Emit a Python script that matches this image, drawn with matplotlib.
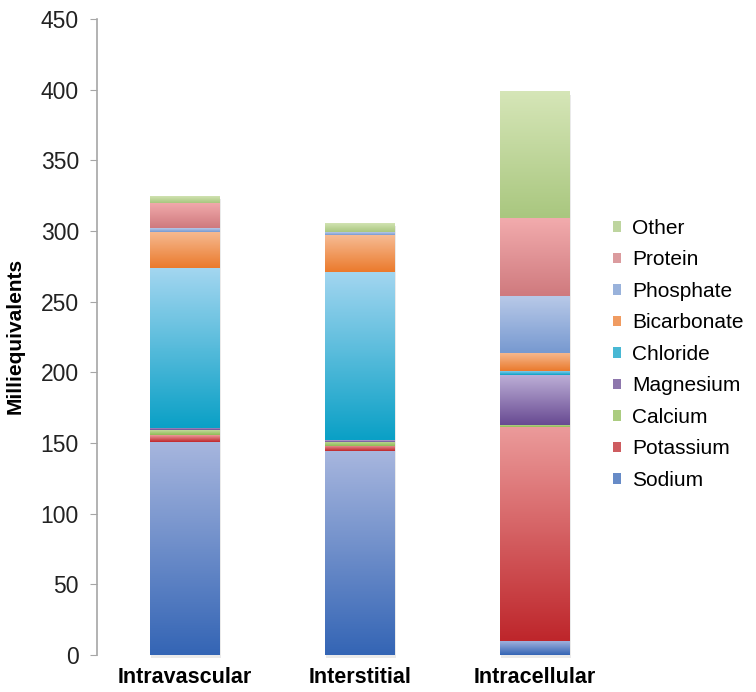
import numpy as np
import matplotlib
matplotlib.use('Agg')
import matplotlib.pyplot as plt
import matplotlib.patheffects as pe
from matplotlib.colors import LinearSegmentedColormap
from matplotlib.patches import Rectangle

plt.rcParams['font.family'] = ['Liberation Sans', 'DejaVu Sans']

categories = ['Intravascular', 'Interstitial', 'Intracellular']
ions = ['Sodium', 'Potassium', 'Calcium', 'Magnesium', 'Chloride',
        'Bicarbonate', 'Phosphate', 'Protein', 'Other']

# mEq per compartment
sodium = [151, 144, 10]
potassium = [4.5, 4, 151]
calcium = [3.5, 3, 2]
magnesium = [1.5, 1, 35]
chloride = [113, 119, 3]
bicarbonate = [26, 26, 13]
phosphate = [2.5, 2, 40]
protein = [18, 0, 55]
other = [5, 7, 90]

series = [sodium, potassium, calcium, magnesium, chloride,
          bicarbonate, phosphate, protein, other]

# (light top, dark bottom) for each ion
shades = [('#a7b6de', '#3465b5'),
          ('#eb9a9a', '#be262b'),
          ('#c3da9c', '#8fbb55'),
          ('#bcaed6', '#684a92'),
          ('#a3d6f0', '#0aa0c6'),
          ('#f6bb93', '#eb7a2c'),
          ('#b8c9e8', '#7799d0'),
          ('#f2abad', '#cf7a7e'),
          ('#d6e6b8', '#a9c77f')]


def gradient_fill(ax, patch, light, dark):
    x0, y0 = patch.get_x(), patch.get_y()
    w, h = patch.get_width(), patch.get_height()
    if h <= 0:
        return
    cmap = LinearSegmentedColormap.from_list('g', [dark, light])
    grad = np.linspace(0, 1, 128).reshape(-1, 1)
    img = ax.imshow(grad, cmap=cmap, extent=[x0, x0 + w, y0, y0 + h],
                    origin='lower', aspect='auto', interpolation='bilinear',
                    zorder=3)
    img.set_clip_path(patch)


fig = plt.figure(figsize=(7.56, 6.92), dpi=100)
ax = fig.add_axes([0.1283, 0.0535, 0.6488, 0.919])

x = np.arange(len(categories))
width = 0.4

# faint drop shadow behind each full stack
totals = np.sum(np.array(series, dtype=float), axis=0)
ax.bar(x, totals, width, color='white', linewidth=0, zorder=1, clip_on=False,
       path_effects=[pe.SimplePatchShadow(offset=(1, -2.5), shadow_rgbFace='#999999',
                                          alpha=0.2),
                     pe.Normal()])

bottom = np.zeros(len(categories))
handles = []
for name, vals, (light, dark) in zip(ions, series, shades):
    vals = np.array(vals, dtype=float)
    bars = ax.bar(x, vals, width, bottom=bottom, color=dark,
                  linewidth=0, zorder=2, label=name)
    for p in bars:
        gradient_fill(ax, p, light, dark)
    bottom += vals
    handles.append(Rectangle((0, 0), 1, 1, facecolor=dark, alpha=0.75,
                             edgecolor='none'))

ax.set_xlim(-0.503, 2.3)
ax.set_ylim(0, 450)
ax.set_yticks(np.arange(0, 451, 50))
ax.set_xticks(x)
ax.set_xticklabels(categories, fontsize=15.5, fontweight='bold')
ax.tick_params(axis='x', length=0, pad=9)
ax.tick_params(axis='y', length=5, color='#a6a6a6', labelsize=16.5,
               labelcolor='#222222', pad=8)
for s in ['top', 'right', 'bottom']:
    ax.spines[s].set_visible(False)
ax.spines['left'].set_color('#a6a6a6')
ax.spines['left'].set_linewidth(1.2)

ax.set_ylabel('Milliequivalents', fontsize=15, fontweight='bold', va='center')
ax.yaxis.set_label_coords(-0.167, 0.502)

fig.legend(handles[::-1], ions[::-1], loc='center left',
           bbox_to_anchor=(0.811, 0.488), frameon=False, fontsize=15,
           borderpad=0, borderaxespad=0,
           handlelength=0.4, handleheight=0.4, handletextpad=0.5,
           labelspacing=0.6)

fig.savefig('out.png', dpi=100)
